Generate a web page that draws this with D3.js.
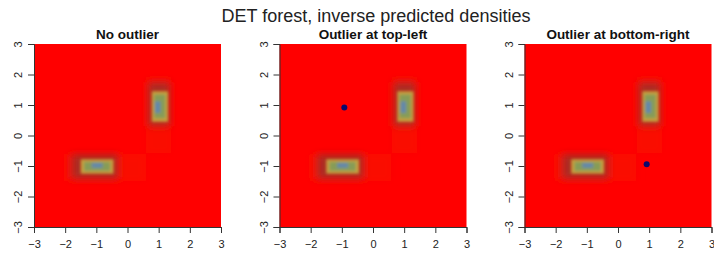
<!DOCTYPE html>
<html>
<head>
<meta charset="utf-8">
<script src="https://cdn.jsdelivr.net/npm/d3@7"></script>
<style>
  body { margin: 0; background: #fff; }
  svg { display: block; font-family: "Liberation Sans", Arial, sans-serif; }
</style>
</head>
<body>
<div id="chart"></div>
<script>
let width = 714;
let height = 254;
let panelLeft = [34, 279.5, 524.5];
let panelWidth = 187;
let plotTop = 44;
let plotBottom = 227;

let xTicks = [-3, -2, -1, 0, 1, 2, 3];
let yTicks = [-3, -2, -1, 0, 1, 2, 3];
let panelTitles = ["No outlier", "Outlier at top-left", "Outlier at bottom-right"];
// outlier point per panel (x, y), null = none
let outliers = [null, [-0.92, 0.92], [0.92, -0.94]];

// DET boxes, wide outer ones: x0, x1, y0, y1, density level
let outerBoxes = [
    [-2.05, 0.6, -0.6, -1.5, 1],
    [0.58, 1.42, 1.9, -0.6, 1],
    [-1.8, -0.3, -0.62, -1.42, 2],
    [0.66, 1.36, 1.75, 0.3, 2]
];
// inner, denser boxes
let innerBoxes = [
    [-1.5, -0.45, -0.78, -1.25, 3],
    [-1.4, -0.55, -0.86, -1.17, 4],
    [-1.15, -0.8, -0.9, -1.06, 5],
    [0.78, 1.3, 1.45, 0.45, 3],
    [0.85, 1.22, 1.35, 0.56, 4],
    [0.88, 1.06, 1.12, 0.74, 5]
];
let levels = [0, 1, 2, 3, 4, 5];
let levelColors = ["#ff0000", "#fa0706", "#aa2a22", "#c9a23e", "#879c56", "#6388aa"];

let color = d3.scaleOrdinal(levels, levelColors);

const svg = d3.select("#chart").append("svg")
    .attr("width", width)
    .attr("height", height);

const defs = svg.append("defs");
[["softOuter", 3.5], ["softInner", 1.7]].forEach(([id, s]) => {
    defs.append("filter")
        .attr("id", id)
        .attr("x", "-30%").attr("y", "-30%")
        .attr("width", "160%").attr("height", "160%")
        .append("feGaussianBlur")
        .attr("stdDeviation", s);
});

svg.append("text")
    .attr("x", 376)
    .attr("y", 22)
    .attr("text-anchor", "middle")
    .attr("font-size", 18)
    .attr("fill", "#222")
    .text("DET forest, inverse predicted densities");

panelLeft.forEach((left, i) => {
    let x = d3.scaleLinear().domain([-3, 3]).range([left, left + panelWidth]);
    let y = d3.scaleLinear().domain([-3, 3]).range([plotBottom, plotTop]);
    const g = svg.append("g");

    defs.append("clipPath")
        .attr("id", "clip" + i)
        .append("rect")
        .attr("x", x(-3))
        .attr("y", y(3))
        .attr("width", x(3) - x(-3))
        .attr("height", y(-3) - y(3));

    g.append("rect")
        .attr("x", x(-3))
        .attr("y", y(3))
        .attr("width", x(3) - x(-3))
        .attr("height", y(-3) - y(3))
        .attr("fill", color(0));

    const img = g.append("g").attr("clip-path", `url(#clip${i})`);
    [[outerBoxes, "softOuter"], [innerBoxes, "softInner"]].forEach(([data, f]) => {
        img.append("g")
            .attr("filter", `url(#${f})`)
            .selectAll("rect")
            .data(data)
            .join("rect")
            .attr("x", d => x(d[0]))
            .attr("width", d => x(d[1]) - x(d[0]))
            .attr("y", d => y(Math.max(d[2], d[3])))
            .attr("height", d => Math.abs(y(d[2]) - y(d[3])))
            .attr("fill", d => color(d[4]));
    });

    if (outliers[i]) {
        g.append("circle")
            .attr("cx", x(outliers[i][0]))
            .attr("cy", y(outliers[i][1]))
            .attr("r", 3)
            .attr("fill", "#0a0a6e");
    }

    g.append("text")
        .attr("x", (x(-3) + x(3)) / 2)
        .attr("y", 39)
        .attr("text-anchor", "middle")
        .attr("font-size", 13.5)
        .attr("font-weight", "bold")
        .attr("fill", "#111")
        .text(panelTitles[i]);

    g.append("g")
        .attr("transform", `translate(0,${plotBottom})`)
        .call(d3.axisBottom(x).tickValues(xTicks).tickSize(6).tickPadding(7).tickFormat(d3.format("d")))
        .call(a => a.selectAll("text").attr("font-size", 11).attr("fill", "#222"))
        .call(a => a.selectAll("line,path").attr("stroke", "#333"));

    g.append("g")
        .attr("transform", `translate(${left},0)`)
        .call(d3.axisLeft(y).tickValues(yTicks).tickSize(6).tickFormat(d3.format("d")))
        .call(a => a.selectAll("text")
            .attr("transform", "rotate(-90)")
            .attr("x", 0)
            .attr("y", -12)
            .attr("dy", 0)
            .attr("text-anchor", "middle")
            .attr("font-size", 11)
            .attr("fill", "#222"))
        .call(a => a.selectAll("line,path").attr("stroke", "#333"));
});
</script>
</body>
</html>
